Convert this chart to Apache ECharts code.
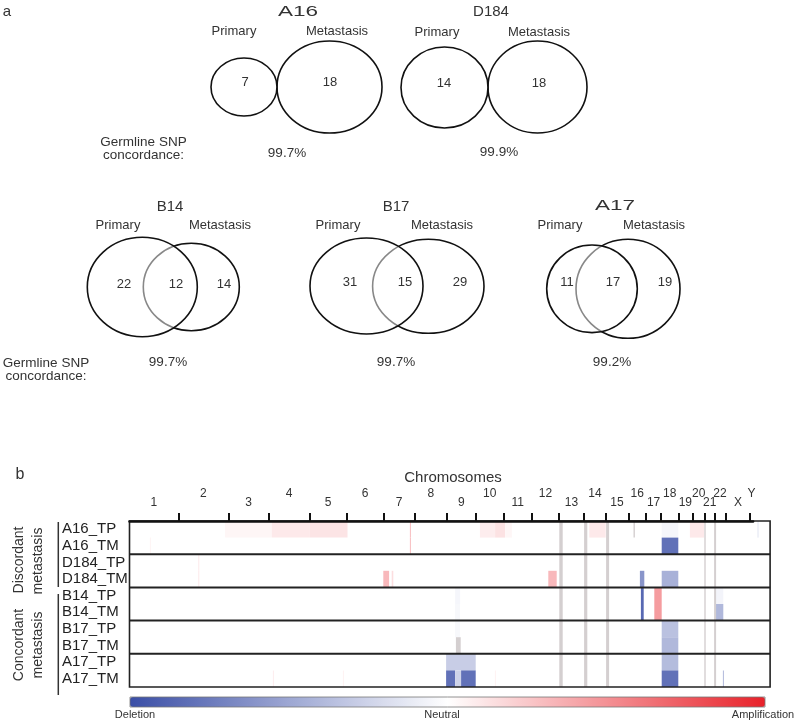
<!DOCTYPE html>
<html><head><meta charset="utf-8">
<script src="https://cdn.jsdelivr.net/npm/echarts@6/dist/echarts.min.js"></script>
<style>html,body{margin:0;padding:0;background:#fff}#c{width:800px;height:724px}</style>
</head><body><div id="c"></div>
<script>
// ---------- Panel a: Venn counts ----------
const vennSamples = ['A16', 'D184', 'B14', 'B17', 'A17'];
const primaryOnly = [7, 14, 22, 31, 11];
const sharedMut = [0, 0, 12, 15, 17];
const metastasisOnly = [18, 18, 14, 29, 19];
const snpConcordance = ['99.7%', '99.9%', '99.7%', '99.7%', '99.2%'];

// ---------- Panel b: copy number ----------
const chromosomes = ['1','2','3','4','5','6','7','8','9','10','11','12','13','14','15','16','17','18','19','20','21','22','X','Y'];
const chromEnds = [244,494,698,899,1086,1269,1428,1586,1733,1869,2013,2146,2273,2381,2494,2583,2658,2744,2814,2878,2924,2981,3103,3118];
const genomeMax = 3203;
const patients = ['A16', 'D184', 'B14', 'B17', 'A17'];
const samples = patients.flatMap(p => [p + '_TP', p + '_TM']);
// [sample, start, end, level (-1 deletion .. +1 amplification)]
const cnvSegments = [
  ['A16_TP', 478, 711, 0.04], ['A16_TP', 711, 899, 0.10], ['A16_TP', 899, 1090, 0.12],
  ['A16_TP', 1402, 1407, 0.30], ['A16_TM', 1402, 1407, 0.30],
  ['A16_TP', 1752, 1828, 0.08], ['A16_TP', 1828, 1878, 0.13], ['A16_TP', 1878, 1912, 0.04],
  ['A16_TP', 2299, 2381, 0.10], ['A16_TP', 2661, 2744, -0.05], ['A16_TP', 2802, 2873, 0.10],
  ['A16_TP', 3138, 3148, -0.08],
  ['A16_TM', 102, 107, 0.05], ['A16_TM', 2661, 2744, -0.80],
  ['D184_TP', 344, 349, 0.10], ['D184_TM', 344, 349, 0.10],
  ['D184_TM', 1269, 1298, 0.32], ['D184_TM', 1311, 1319, 0.15], ['D184_TM', 2094, 2136, 0.32],
  ['D184_TM', 2552, 2574, -0.60], ['D184_TM', 2661, 2744, -0.44],
  ['B14_TP', 1628, 1653, -0.05], ['B14_TP', 2557, 2571, -0.85], ['B14_TP', 2624, 2661, 0.45], ['B14_TP', 2928, 2969, -0.06],
  ['B14_TM', 1628, 1653, -0.04], ['B14_TM', 2557, 2571, -0.85], ['B14_TM', 2624, 2661, 0.45], ['B14_TM', 2928, 2969, -0.40],
  ['B17_TP', 1628, 1653, -0.04], ['B17_TP', 2661, 2744, -0.35],
  ['B17_TM', 2661, 2744, -0.40],
  ['A17_TP', 1583, 1731, -0.28], ['A17_TP', 2661, 2744, -0.38],
  ['A17_TM', 1583, 1628, -0.80], ['A17_TM', 1628, 1658, -0.25], ['A17_TM', 1658, 1731, -0.80],
  ['A17_TM', 2661, 2744, -0.80], ['A17_TM', 2967, 2972, -0.40],
  ['A17_TM', 717, 722, 0.08], ['A17_TM', 1067, 1072, 0.06], ['A17_TM', 1827, 1832, 0.06]
];
// [start, end, firstSample, lastSample] regions without data
const noDataRegions = [
  [2149, 2166, 'A16_TP', 'A17_TM'], [2273, 2289, 'A16_TP', 'A17_TM'], [2383, 2398, 'A16_TP', 'A17_TM'],
  [2874, 2881, 'A16_TP', 'A17_TM'], [2923, 2933, 'A16_TP', 'A17_TM'],
  [2520, 2527, 'A16_TP', 'A16_TP'], [1632, 1656, 'B17_TM', 'B17_TM']
];

// ---------- layout (not data) ----------
const FONT = '"Liberation Sans", Arial, sans-serif';
const TXT = '#333';
const vennLayout = [
  {title:[298,12], sx:1.5, pL:[234,31], mL:[337,31], pE:[244,87,33,29], mE:[329.5,87,52.5,46], pN:[245,82], sN:null, mN:[330,82], conc:[287,153]},
  {title:[491,12], sx:1, pL:[437,32], mL:[539,32], pE:[444.5,87.5,43.5,40.5], mE:[537.5,87,49.5,46], pN:[444,83], sN:null, mN:[539,83], conc:[499,152]},
  {title:[170,207], sx:1, pL:[118,225], mL:[220,225], pE:[142.3,287,55,49.7], mE:[191.3,287,48,43.7], pN:[124,284], sN:[176,284], mN:[224,284], conc:[168,362]},
  {title:[396,207], sx:1, pL:[338,225], mL:[442,225], pE:[366.5,286,56.5,48], mE:[428.3,286.3,55.7,47], pN:[350,282], sN:[405,282], mN:[460,282], conc:[396,362]},
  {title:[615,206], sx:1.5, pL:[560,225], mL:[654,225], pE:[592,288.8,45.3,43.8], mE:[628,288.8,52,49.5], pN:[567,282], sN:[613,282], mN:[665,282], conc:[612,362]}
];

function txt(text, x, y, size, extra) {
  return Object.assign({type:'text', x:x, y:y, z:10, silent:true,
    style:{text:text, textAlign:'center', textVerticalAlign:'middle', fill:TXT, font: size + 'px ' + FONT}}, extra || {});
}
const graphics = [];
graphics.push(txt('a', 7, 12, 15));
vennSamples.forEach((s, i) => {
  const L = vennLayout[i];
  graphics.push(Object.assign(txt(s, L.title[0], L.title[1], 15), {scaleX: L.sx}));
  graphics.push(txt('Primary', L.pL[0], L.pL[1], 13));
  graphics.push(txt('Metastasis', L.mL[0], L.mL[1], 13));
  graphics.push({type:'ellipse', z:5, silent:true, shape:{cx:L.mE[0], cy:L.mE[1], rx:L.mE[2], ry:L.mE[3]}, style:{fill:'none', stroke:'#111', lineWidth:1.6}});
  graphics.push({type:'ellipse', z:6, silent:true, shape:{cx:L.pE[0], cy:L.pE[1], rx:L.pE[2], ry:L.pE[3]}, style:{fill:'rgba(255,255,255,0.5)', stroke:'#111', lineWidth:1.6}});
  graphics.push(txt(String(primaryOnly[i]), L.pN[0], L.pN[1], 13));
  if (sharedMut[i] > 0) graphics.push(txt(String(sharedMut[i]), L.sN[0], L.sN[1], 13));
  graphics.push(txt(String(metastasisOnly[i]), L.mN[0], L.mN[1], 13));
  graphics.push(txt(snpConcordance[i], L.conc[0], L.conc[1], 13.5));
});
[[143.5,142],[46,363]].forEach(p => {
  graphics.push(txt('Germline SNP', p[0], p[1], 13.5));
  graphics.push(txt('concordance:', p[0], p[1] + 13, 13.5));
});
// panel b annotations
graphics.push(txt('b', 20, 475, 16));
graphics.push(txt('Chromosomes', 453, 478, 15));
graphics.push({type:'line', silent:true, shape:{x1:58.3,y1:522,x2:58.3,y2:587}, style:{stroke:'#333', lineWidth:1.5}});
graphics.push({type:'line', silent:true, shape:{x1:58.3,y1:594,x2:58.3,y2:695}, style:{stroke:'#333', lineWidth:1.5}});
graphics.push(txt('Discordant', 19, 560, 14, {rotation: Math.PI/2}));
graphics.push(txt('metastasis', 38, 561, 14, {rotation: Math.PI/2}));
graphics.push(txt('Concordant', 19, 645, 14, {rotation: Math.PI/2}));
graphics.push(txt('metastasis', 38, 645, 14, {rotation: Math.PI/2}));
graphics.push(txt('Deletion', 135, 715, 11));
graphics.push(txt('Neutral', 442, 715, 11));
graphics.push(txt('Amplification', 763, 715, 11));
graphics.push({type:'rect', silent:true, z:10, shape:{x:130, y:697, width:635, height:10}, style:{fill:'none', stroke:'#777', lineWidth:0.8}});

// chromosome label positions = chromosome centres
const chromCenters = chromEnds.map((e, i) => ((i === 0 ? 0 : chromEnds[i-1]) + e) / 2);
const lowCenters = chromCenters.filter((c, i) => i % 2 === 0);
const highCenters = chromCenters.filter((c, i) => i % 2 === 1);
function chromName(v) {
  let best = 0;
  chromCenters.forEach((c, i) => { if (Math.abs(c - v) < Math.abs(chromCenters[best] - v)) best = i; });
  return chromosomes[best];
}

const GL = 129.5, GT = 521, GH = 166;
const unitPx = 0.2;

function renderSeg(params, api) {
  const r = api.value(0), s = api.value(1), e = api.value(2);
  const p0 = api.coord([s, r]), p1 = api.coord([e, r]);
  const h = api.size([0, 1])[1];
  return {type:'rect', shape:{x:p0[0], y:p0[1] - h/2, width:Math.max(1, p1[0] - p0[0]), height:h},
          style:{fill: api.visual('color')}};
}
function renderGap(params, api) {
  const s = api.value(0), e = api.value(1), r0 = api.value(2), r1 = api.value(3);
  const a = api.coord([s, r0]), b = api.coord([e, r1]);
  const h = api.size([0, 1])[1];
  return {type:'rect', shape:{x:a[0], y:a[1] - h/2, width:Math.max(1, b[0] - a[0]), height:b[1] - a[1] + h},
          style:{fill:'#d4cfd0'}};
}
function renderFrame(params, api) {
  const r = api.value(0);
  const h = api.size([0, 1])[1];
  const a = api.coord([0, Math.max(r, 0)]), b = api.coord([genomeMax, Math.max(r, 0)]);
  const y = a[1] + h/2;
  if (r === -1) {
    const top = api.coord([0, 0])[1] - h/2;
    const bot = api.coord([0, samples.length - 1])[1] + h/2;
    return {type:'rect', shape:{x:a[0], y:top, width:b[0]-a[0], height:bot-top}, style:{fill:'none', stroke:'#222', lineWidth:1.6}};
  }
  return {type:'line', shape:{x1:a[0], y1:y, x2:b[0], y2:y}, style:{stroke:'#222', lineWidth:2}};
}
const frameRows = [-1].concat(patients.slice(0, -1).map((p, i) => 2*i + 1));

const option = {
  animation: false,
  backgroundColor: '#fff',
  textStyle: {fontFamily: FONT},
  graphic: graphics,
  grid: [
    {left: GL, top: GT, width: genomeMax*unitPx, height: GH, show: false},
    {left: GL, top: GT, width: chromEnds[chromEnds.length-1]*unitPx, height: GH, show: false},
    {left: GL, top: GT, width: chromEnds[chromEnds.length-1]*unitPx, height: GH, show: false}
  ],
  xAxis: [
    {gridIndex:0, type:'value', min:0, max:genomeMax, show:false},
    {gridIndex:1, type:'value', min:0, max:chromEnds[chromEnds.length-1], position:'top', z:10,
     axisLine:{show:true, onZero:false, lineStyle:{color:'#111', width:2.5}},
     axisTick:{show:true, inside:false, length:8, customValues: chromEnds.slice(0, -1), lineStyle:{color:'#111', width:2}},
     axisLabel:{show:true, customValues: lowCenters, margin:12, fontSize:12, color:TXT, fontFamily:FONT, formatter: v => chromName(v)},
     splitLine:{show:false}},
    {gridIndex:2, type:'value', min:0, max:chromEnds[chromEnds.length-1], position:'top', z:10,
     axisLine:{show:false, onZero:false}, axisTick:{show:false},
     axisLabel:{show:true, customValues: highCenters, margin:21, fontSize:12, color:TXT, fontFamily:FONT, formatter: v => chromName(v)},
     splitLine:{show:false}}
  ],
  yAxis: [
    {gridIndex:0, type:'category', data: samples, inverse:true,
     axisLine:{show:false}, axisTick:{show:false}, splitLine:{show:false},
     axisLabel:{interval:0, align:'left', margin:67.5, fontSize:15, color:'#222', fontFamily:FONT}},
    {gridIndex:1, type:'value', show:false, min:0, max:1},
    {gridIndex:2, type:'value', show:false, min:0, max:1}
  ],
  visualMap: {
    type:'continuous', seriesIndex:0, dimension:3, min:-1, max:1,
    orient:'horizontal', left:130, top:697, itemWidth:10, itemHeight:635, padding:0,
    calculable:false, hoverLink:false, inRange:{color:['#3a4ea6', '#ffffff', '#e8222a']}
  },
  series: [
    {type:'custom', xAxisIndex:0, yAxisIndex:0, renderItem:renderSeg, silent:true, z:2,
     encode:{x:[1,2], y:0},
     data: cnvSegments.map(s => [samples.indexOf(s[0]), s[1], s[2], s[3]])},
    {type:'custom', xAxisIndex:0, yAxisIndex:0, renderItem:renderGap, silent:true, z:3,
     encode:{x:[0,1], y:[2,3]},
     data: noDataRegions.map(g => [g[0], g[1], samples.indexOf(g[2]), samples.indexOf(g[3])])},
    {type:'custom', xAxisIndex:0, yAxisIndex:0, renderItem:renderFrame, silent:true, z:4,
     encode:{y:0}, data: frameRows.map(r => [r])}
  ]
};
const chart = echarts.init(document.getElementById('c'), null, {renderer:'canvas'});
chart.setOption(option);
</script></body></html>
